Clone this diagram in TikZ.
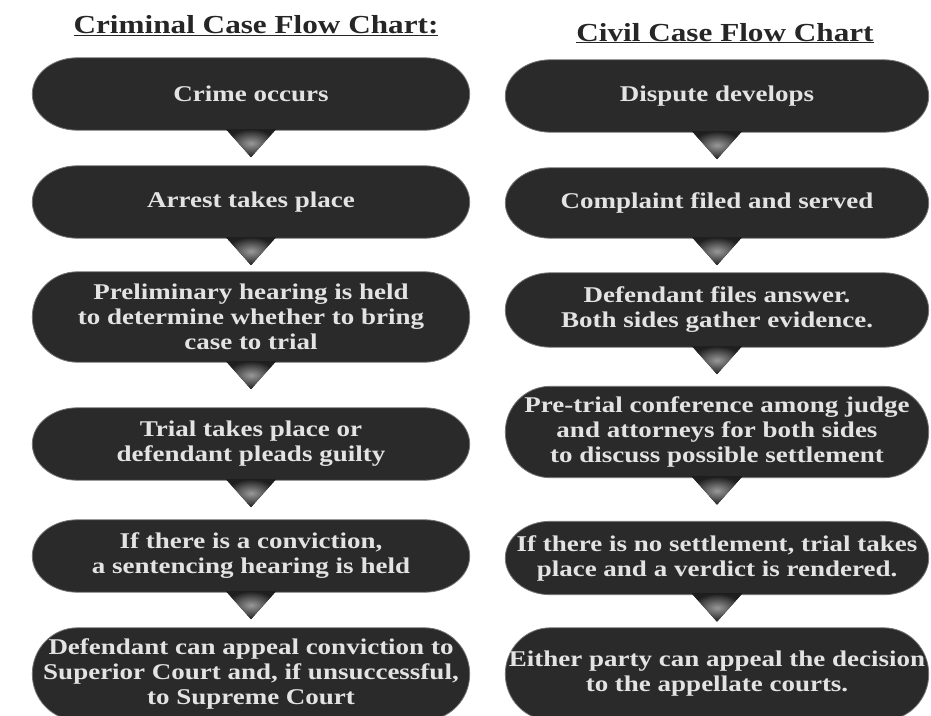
\documentclass[tikz,border=0pt]{standalone}
\usepackage{fontspec}
\setmainfont[FakeStretch=1.2]{Liberation Serif}
\usetikzlibrary{calc}
\pgfdeclarelayer{background}
\pgfsetlayers{background,main}
\definecolor{pilldark}{HTML}{2A2A2A}
\definecolor{pilltext}{HTML}{E3E3E3}
\tikzset{
    pill/.style={minimum height=72pt, inner sep=0pt, align=center, text=pilltext,
        font=\bfseries\fontsize{22.5}{25}\selectfont},
    leftpill/.style={pill, minimum width=437pt},
    rightpill/.style={pill, minimum width=423pt},
    heading/.style={anchor=base, text=black!85, font=\bfseries\fontsize{26}{29}\selectfont},
    pillfill/.style={fill=pilldark, draw=black!55, line width=0.8pt},
    pointer/.style={shading=radial, inner color=black!40, outer color=black!88},
}

\begin{document}
\begin{tikzpicture}[x=1pt,y=1pt]
\clip (0,0) rectangle (931,-715);

\node[heading] (crimtitle) at (256,-33) {\underline{Criminal Case Flow Chart:}};
\node[heading] (civtitle) at (725,-41) {\underline{Civil Case Flow Chart}};

\node[leftpill] (c1) at (251,-94) {Crime occurs};
\node[leftpill] (c2) at (251,-202) {Arrest takes place};
\node[leftpill, minimum height=90pt] (c3) at (251,-317) {Preliminary hearing is held\\to determine whether to bring\\case to trial};
\node[leftpill] (c4) at (251,-444) {Trial takes place or\\defendant pleads guilty};
\node[leftpill] (c5) at (251,-556) {If there is a conviction,\\a sentencing hearing is held};
\node[leftpill, minimum height=92pt] (c6) at (251,-674) {Defendant can appeal conviction to\\Superior Court and, if unsuccessful,\\to Supreme Court};

\node[rightpill] (v1) at (717,-96) {Dispute develops};
\node[rightpill, minimum height=70pt] (v2) at (717,-203) {Complaint filed and served};
\node[rightpill, minimum height=74pt] (v3) at (717,-310) {Defendant files answer.\\Both sides gather evidence.};
\node[rightpill, minimum height=91pt] (v4) at (717,-432) {Pre-trial conference among judge\\and attorneys for both sides\\to discuss possible settlement};
\node[rightpill, minimum height=73pt] (v5) at (717,-558) {If there is no settlement, trial takes\\place and a verdict is rendered.};
\node[rightpill, minimum height=92pt] (v6) at (717,-674) {Either party can appeal the decision\\to the appellate courts.};

\begin{pgfonlayer}{background}
\fill[white] (0,0) rectangle (931,-715);
\foreach \k in {c1,c2,c3,c4,c5,c6,v1,v2,v3,v4,v5,v6}
    \path[pillfill] let \p1=(\k.north west), \p2=(\k.south east), \n1={(\y1-\y2)/2} in
        (\x1+45pt,\y1) -- (\x2-45pt,\y1)
        arc[start angle=90, end angle=-90, x radius=45pt, y radius=\n1]
        -- (\x1+45pt,\y2)
        arc[start angle=270, end angle=90, x radius=45pt, y radius=\n1] -- cycle;
\end{pgfonlayer}

\foreach \a/\b in {c1/c2,c2/c3,c3/c4,c4/c5,c5/c6,v1/v2,v2/v3,v3/v4,v4/v5,v5/v6}
    \fill[pointer] ($(\a.south)+(-25pt,1pt)$) -- ($(\a.south)+(25pt,1pt)$)
        -- ($(\a.south)!27pt!(\b.north)$) -- cycle;
\end{tikzpicture}
\end{document}
